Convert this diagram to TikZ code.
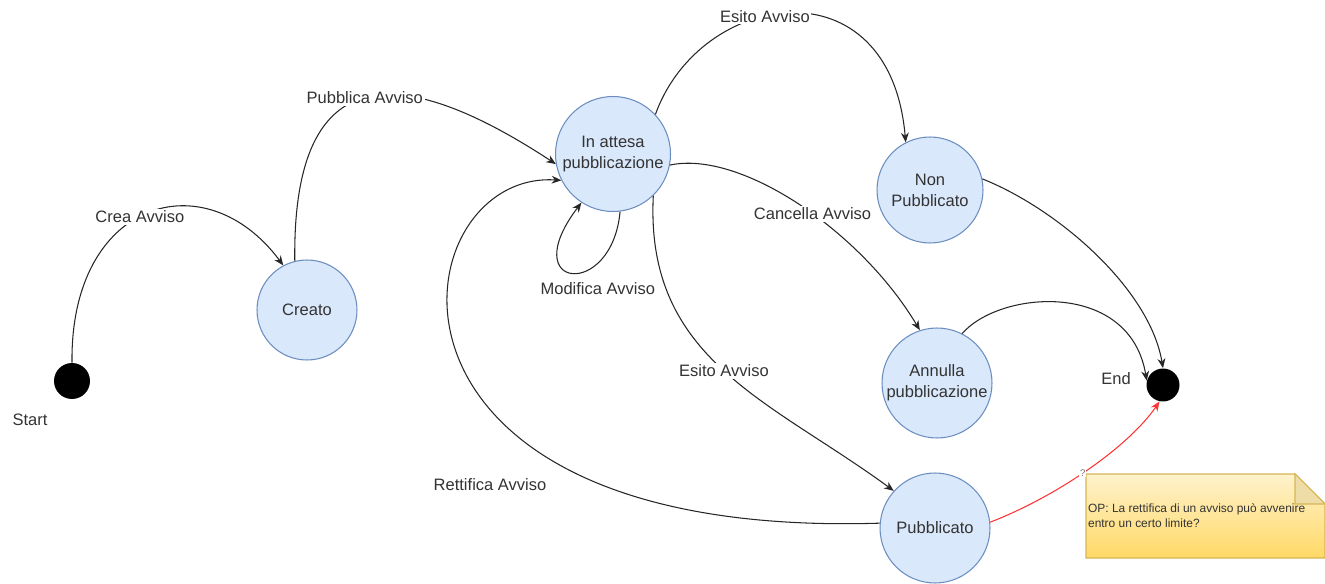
\documentclass[tikz,border=0pt]{standalone}
\usepackage{fontspec}
\setmainfont{Liberation Sans}
\usetikzlibrary{arrows.meta}
\definecolor{statefill}{HTML}{DAE8FC}
\definecolor{stateline}{HTML}{6C8EBF}
\definecolor{txt}{HTML}{333333}
\definecolor{notetop}{HTML}{FFF2CC}
\definecolor{notebot}{HTML}{FFD966}
\definecolor{noteline}{HTML}{D6B656}
\definecolor{notefold}{HTML}{EEDDA6}
\definecolor{redline}{HTML}{FF3333}

\begin{document}
\begin{tikzpicture}[x=0.02cm, y=-0.02cm, font=\fontsize{9.4}{12}\selectfont, text=txt]
  \useasboundingbox (0,0) rectangle (1325,584);

  \tikzstyle{state}=[circle, draw=stateline, line width=0.6pt, fill=statefill, align=center, inner sep=0pt]
  \tikzstyle{dot}=[circle, fill=black, inner sep=0pt]
  \tikzstyle{trans}=[draw=black!85, line width=0.6pt, -{Stealth[length=5.5pt, width=4.5pt]}]
  \tikzstyle{lbl}=[fill=white, inner sep=1pt]

  \node[dot, minimum size=0.72cm] (start) at (72,381) {};
  \node (startlbl) at (30,420) {Start};
  \node[state, minimum size=2cm] (creato) at (307,310) {Creato};
  \node[state, minimum size=2.3cm] (attesa) at (613,154) {In attesa\\pubblicazione};
  \node[state, minimum size=2.12cm] (nonpub) at (930,190) {Non\\Pubblicato};
  \node[state, minimum size=2.2cm] (annulla) at (937,383) {Annulla\\pubblicazione};
  \node[state, minimum size=2.2cm] (pubblicato) at (935,528) {Pubblicato};
  \node[dot, minimum size=0.66cm] (end) at (1163,385) {};
  \node (endlbl) at (1116,379) {End};
  \node (rettlbl) at (490,485) {Rettifica Avviso};

  \shade[top color=notetop, bottom color=notebot, draw=noteline, line width=0.6pt]
    (1086,474) -- (1295,474) -- (1325,504) -- (1325,558) -- (1086,558) -- cycle;
  \filldraw[fill=notefold, draw=noteline, line width=0.6pt] (1295,474) -- (1295,504) -- (1325,504) -- cycle;
  \node[anchor=west, align=left, inner sep=1pt, font=\fontsize{6.8}{8.5}\selectfont] (note) at (1086,516)
    {OP: La rettifica di un avviso può avvenire\\entro un certo limite?};

  \draw[trans] (start.north) .. controls (70,200) and (205,160) .. node[lbl, pos=0.47] {Crea Avviso} (creato.118);
  \draw[trans] (creato.104) .. controls (292,40) and (420,75) .. node[lbl, pos=0.47] {Pubblica Avviso} (attesa.190);
  \draw[trans] (attesa.277) .. controls (612,300) and (515,290) .. node[pos=0.5, below=2pt, xshift=0.5cm] {Modifica Avviso} (attesa.237);
  \draw[trans] (attesa.43) .. controls (700,-10) and (890,-40) .. node[lbl, pos=0.42] {Esito Avviso} (nonpub.117);
  \draw[trans] (attesa.349) .. controls (740,150) and (860,230) .. node[lbl, pos=0.55] {Cancella Avviso} (annulla.108);
  \draw[trans] (attesa.314) .. controls (645,360) and (770,400) .. node[lbl] {Esito Avviso} (pubblicato.138);
  \draw[trans] (pubblicato.175) .. controls (340,540) and (400,170) .. (attesa.207);
  \draw[trans] (nonpub.12) .. controls (1060,210) and (1150,290) .. (end.north);
  \draw[trans] (annulla.63) .. controls (1000,290) and (1130,280) .. (end.165);
  \draw[trans, draw=redline] (pubblicato.6) .. controls (1060,495) and (1130,445) .. node[lbl, pos=0.46, inner sep=0.5pt, text=black!55, font=\fontsize{5.5}{6}\selectfont] {?} (end.258);
\end{tikzpicture}
\end{document}
